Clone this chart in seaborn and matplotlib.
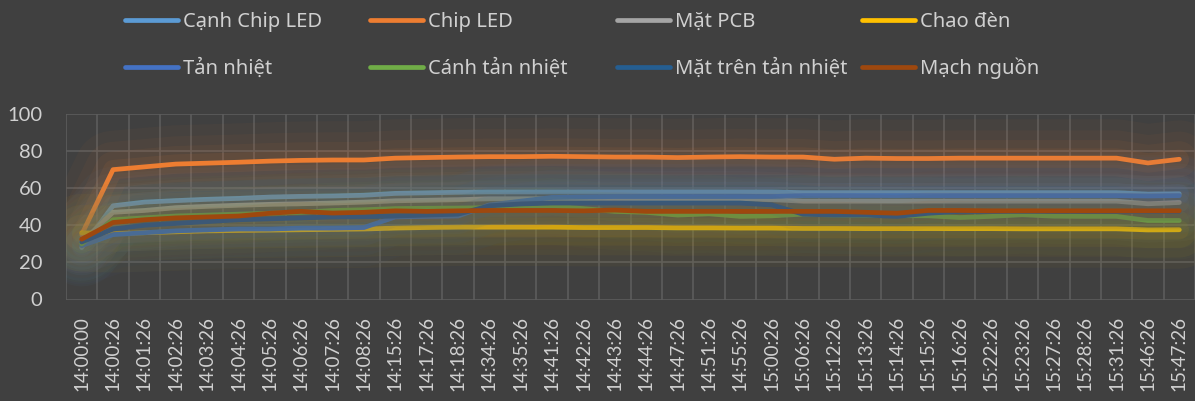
import matplotlib
matplotlib.use("Agg")
import numpy as np
import pandas as pd
import matplotlib.pyplot as plt
import matplotlib.patheffects as pe
from matplotlib.lines import Line2D
import seaborn as sns

# ---------------- data ----------------
times = ["14:00:00", "14:00:26", "14:01:26", "14:02:26", "14:03:26", "14:04:26",
         "14:05:26", "14:06:26", "14:07:26", "14:08:26", "14:15:26", "14:17:26",
         "14:18:26", "14:34:26", "14:35:26", "14:41:26", "14:42:26", "14:43:26",
         "14:44:26", "14:47:26", "14:51:26", "14:55:26", "15:00:26", "15:06:26",
         "15:12:26", "15:13:26", "15:14:26", "15:15:26", "15:16:26", "15:22:26",
         "15:23:26", "15:27:26", "15:28:26", "15:31:26", "15:46:26", "15:47:26"]

canh_chip_led = [28, 50.5, 52.5, 53.3, 54, 54.5, 55.2, 55.6, 55.8, 56.2, 57.2, 57.5,
                 57.8, 58, 58, 58, 58, 58, 58, 58, 58, 58, 58, 57.6,
                 57.6, 57.6, 57.6, 57.6, 57.6, 57.6, 57.6, 57.6, 57.6, 57.6, 56.8, 57]
chip_led = [35, 70, 71.5, 73, 73.5, 74, 74.6, 75, 75.2, 75.2, 76.2, 76.5,
            76.8, 77, 77, 77.2, 77, 76.8, 76.8, 76.5, 76.8, 77, 76.8, 76.8,
            75.6, 76.2, 76, 76, 76.2, 76.2, 76.2, 76.2, 76.2, 76.2, 73.6, 75.6]
mat_pcb = [31, 47, 48, 49.5, 50.2, 50.8, 51.3, 51.6, 52, 52.5, 53.2, 53.5,
           53.8, 54.3, 54.3, 54.3, 54.3, 54.3, 54.3, 54.3, 54.3, 54.3, 53.8, 53,
           53, 53, 53, 53, 53, 53, 53, 53, 53, 53, 51.6, 52.3]
chao_den = [36, 35.5, 36, 36.5, 37, 37.2, 37.4, 37.6, 37.8, 38, 38.5, 38.8,
            39, 39, 39, 39, 38.8, 38.8, 38.8, 38.6, 38.6, 38.5, 38.5, 38.3,
            38.3, 38.2, 38.2, 38.2, 38.2, 38.2, 38.1, 38.1, 38.1, 38.1, 37.5, 37.6]
tan_nhiet = [29, 35, 36, 37, 37.5, 38, 38, 38.5, 38.5, 38.8, 44.5, 44.8,
             45, 51, 53, 55, 55.3, 55.5, 55.5, 55.5, 55.5, 55.5, 55.5, 56,
             56, 56, 56, 56, 56, 56, 56, 56, 56, 56, 55.8, 56]
canh_tan_nhiet = [30, 43, 44, 45, 45.5, 46, 46.5, 47, 48, 48.4, 49, 49.2,
                  49.3, 49.5, 50.2, 50.5, 49, 47.5, 47, 45.5, 46.2, 44.8, 45.1, 46,
                  45.5, 45.3, 45.2, 45.1, 44.2, 44.8, 45.7, 44.9, 44.8, 44.8, 42.6, 42.6]
mat_tren_tan_nhiet = [31, 38, 40, 41, 42, 43, 43.5, 44, 44.5, 44.6, 45, 45.5,
                      46, 50.5, 51.5, 52, 52, 52, 52, 52, 52, 52, 51, 46,
                      45.5, 45.5, 44.8, 46.5, 47.5, 47.5, 47.5, 47.5, 47.5, 47.5, 47.5, 47.5]
mach_nguon = [32.5, 41.5, 43, 44, 44.5, 45, 46.5, 47.5, 46.6, 47, 47.8, 47.5,
              47.8, 48, 48, 48, 47.8, 48.2, 47.5, 47.5, 47.5, 47.5, 47.5, 47.5,
              47.5, 47, 46.5, 48, 48, 47.8, 47.8, 47.8, 47.8, 47.8, 47.8, 47.8]

series_names = ["Cạnh Chip LED", "Chip LED", "Mặt PCB", "Chao đèn",
                "Tản nhiệt", "Cánh tản nhiệt", "Mặt trên tản nhiệt", "Mạch nguồn"]
series_values = [canh_chip_led, chip_led, mat_pcb, chao_den,
                 tan_nhiet, canh_tan_nhiet, mat_tren_tan_nhiet, mach_nguon]
series_colors = ["#5B9BD5", "#ED7D31", "#A5A5A5", "#FFC000",
                 "#4472C4", "#70AD47", "#255E91", "#9E480E"]

rows = []
for name, vals in zip(series_names, series_values):
    for i, v in enumerate(vals):
        rows.append({"idx": i, "value": v, "series": name})
df = pd.DataFrame(rows)

# ---------------- style ----------------
BG = "#404040"
GRID = "#5c5c5c"
TXT = "#d0d0d0"
sns.set_style("dark", rc={"axes.facecolor": BG, "figure.facecolor": BG})
plt.rcParams["font.family"] = ["Noto Sans", "DejaVu Sans"]

W, H = 1195, 401
fig = plt.figure(figsize=(W / 100, H / 100), dpi=100, facecolor=BG)
left, right, top, bottom = 66, 1195, 114, 299.5
ax = fig.add_axes([left / W, (H - bottom) / H, (right - left) / W, (bottom - top) / H])
ax.set_facecolor(BG)

palette = dict(zip(series_names, series_colors))
sns.lineplot(data=df, x="idx", y="value", hue="series", hue_order=series_names,
             palette=palette, linewidth=3.4, errorbar=None, legend=False,
             sort=False, ax=ax)

glow = [pe.Stroke(linewidth=56, alpha=0.035), pe.Stroke(linewidth=40, alpha=0.045),
        pe.Stroke(linewidth=26, alpha=0.055), pe.Stroke(linewidth=14, alpha=0.08),
        pe.Normal()]
for ln in ax.lines:
    ln.set_path_effects(glow)
    ln.set_solid_joinstyle("round")
    ln.set_solid_capstyle("round")

ax.set_xlim(-0.5, len(times) - 0.5)
ax.set_ylim(0, 100)
ax.set_yticks(range(0, 101, 20))
ax.set_xticks(range(len(times)))
ax.set_xticklabels(times, rotation=90, va="top", ha="center")
ax.set_xticks(np.arange(-0.5, len(times), 1), minor=True)
ax.set_xlabel("")
ax.set_ylabel("")

ax.set_axisbelow(True)
ax.yaxis.grid(True, color=GRID, linewidth=1.2)
ax.xaxis.grid(True, which="minor", color=GRID, linewidth=1.2)
ax.xaxis.grid(False, which="major")
for s in ax.spines.values():
    s.set_visible(False)
ax.tick_params(axis="y", length=0, pad=17, labelcolor=TXT)
ax.tick_params(axis="x", which="both", length=0, pad=12, labelcolor=TXT)
for lab in ax.get_xticklabels() + ax.get_yticklabels():
    lab.set_family(["Lato", "Noto Sans", "DejaVu Sans"])
ax.tick_params(axis="y", labelsize=14.5)
ax.tick_params(axis="x", labelsize=13.5)

# ---------------- legend: 4 columns x 2 rows (manual placement) ----------------
col_x = [125, 370, 617, 862]
row_y = [20, 67]
handle_len = 53
for k, (name, color) in enumerate(zip(series_names, series_colors)):
    r, c = divmod(k, 4)
    x0 = col_x[c]
    y = row_y[r]
    fig.add_artist(Line2D([x0 / W, (x0 + handle_len) / W], [1 - y / H, 1 - y / H],
                          transform=fig.transFigure, color=color, linewidth=3.4,
                          solid_capstyle="round"))
    fig.text((x0 + handle_len + 5) / W, 1 - (y + 7) / H, name,
             color=TXT, fontsize=14.5, ha="left", va="baseline")

fig.savefig("out.png", dpi=100, facecolor=BG)
